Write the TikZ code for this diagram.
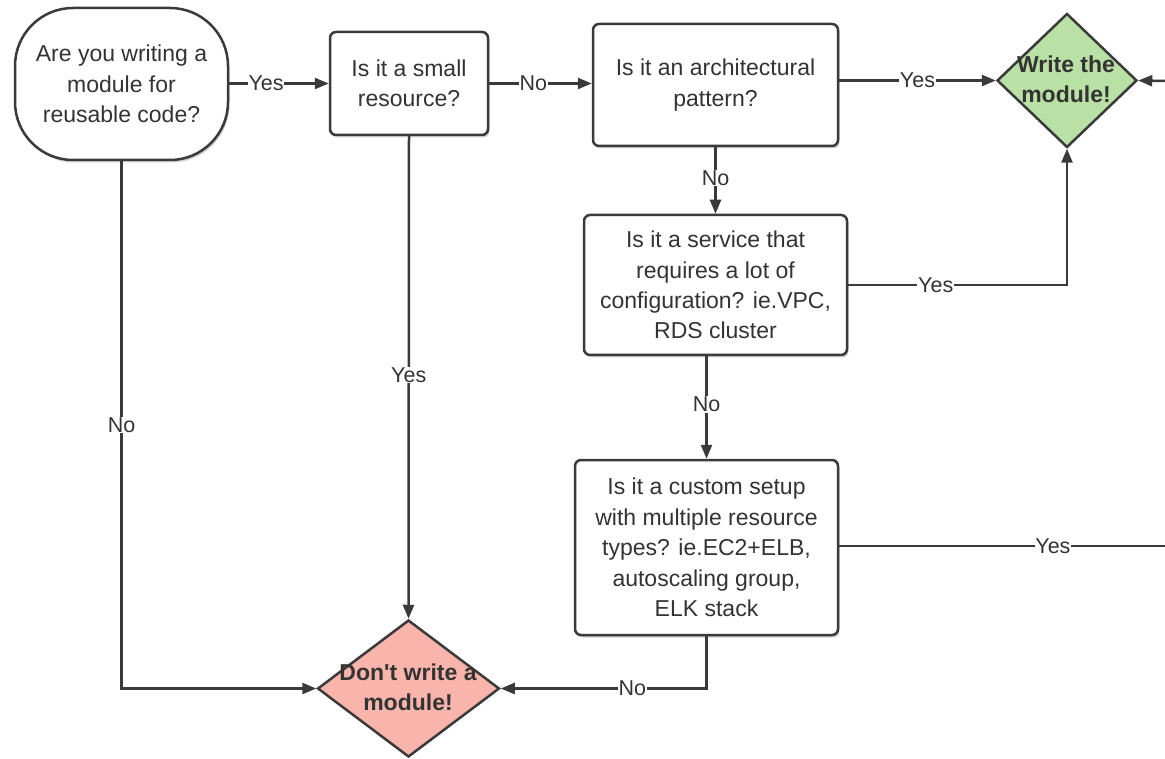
\documentclass[tikz,border=0pt]{standalone}
\usepackage{fontspec}
\setmainfont{Liberation Sans}
\usetikzlibrary{shapes.geometric,arrows.meta,shadows}
\definecolor{linec}{HTML}{3A3A3A}
\definecolor{textc}{HTML}{333333}
\definecolor{greenf}{HTML}{B9E0A5}
\definecolor{redf}{HTML}{F9B4AC}
\newcommand{\fsz}{\fontsize{23}{30.4}\selectfont}
\newcommand{\lsz}{\fontsize{21.5}{26}\selectfont}
\tikzset{
  conn/.style={draw=linec, line width=2.5pt, -{Triangle[length=14pt,width=11pt]}},
  plainconn/.style={draw=linec, line width=2.5pt},
  qbox/.style={draw=linec, line width=2.5pt, rounded corners=6pt, fill=white, align=center,
    font=\fsz, text=textc, inner sep=0pt,
    drop shadow={shadow xshift=1.5pt, shadow yshift=-2.5pt, opacity=0.18, fill=black}},
  startbox/.style={qbox, rounded corners=58pt},
  dia/.style={diamond, draw=linec, line width=2.5pt, inner sep=0pt},
  diatext/.style={align=center, font=\fsz\bfseries, text=textc, inner sep=0pt},
  lbl/.style={fill=white, font=\lsz, text=textc, inner sep=0.8pt}
}
\begin{document}
\begin{tikzpicture}[x=1pt,y=-1pt]
\useasboundingbox (0,0) rectangle (1165,759);
% nodes
\node[startbox, minimum width=213pt, minimum height=152pt] (start) at (121.5,84) {Are you writing a\\module for\\reusable code?};
\node[qbox, minimum width=158pt, minimum height=103pt] (small) at (409,83.5) {Is it a small\\resource?};
\node[qbox, minimum width=245pt, minimum height=122pt] (arch) at (715.5,85) {Is it an architectural\\pattern?};
\node[qbox, minimum width=263pt, minimum height=140pt] (service) at (715.5,285) {Is it a service that\\requires a lot of\\configuration? ie.VPC,\\RDS cluster};
\node[qbox, minimum width=263pt, minimum height=175pt] (custom) at (706.5,547.5) {Is it a custom setup\\with multiple resource\\types? ie.EC2+ELB,\\autoscaling group,\\ELK stack};
\node[dia, fill=greenf, minimum width=140pt, minimum height=134pt] (green) at (1067,80.5) {};
\node[diatext] (greentext) at (1066,79) {Write the\\module!};
\node[dia, fill=redf, minimum width=182pt, minimum height=137pt] (red) at (408.5,688.5) {};
\node[diatext] (redtext) at (408,687) {Don\textquotesingle t write a\\module!};
% off-canvas coordinates
\coordinate (edgeA) at (1168,546);
\coordinate (edgeB) at (1168,81);
% connectors
\draw[conn] (start.east |- small.west) -- node[lbl, pos=0.37] (l1) {Yes} (small.west);
\draw[conn] (small.east) -- node[lbl, pos=0.43] (l2) {No} (arch.west |- small.east);
\draw[conn] (arch.east |- green.west) -- node[lbl, pos=0.5] (l3) {Yes} (green.west);
\draw[conn] (arch.south) -- node[lbl, pos=0.46] (l4) {No} (service.north);
\draw[conn] (service.east) -| node[lbl, pos=0.2] (l5) {Yes} (green.south);
\draw[conn] (custom.north |- service.south) -- node[lbl, pos=0.47] (l6) {No} (custom.north);
\draw[plainconn] (custom.east |- edgeA) -- node[lbl, pos=0.65] (l7) {Yes} (edgeA);
\draw[conn] (edgeB) -- (green.east);
\draw[conn] (custom.south) |- node[lbl, pos=0.68] (l8) {No} (red.east);
\draw[conn] (small.south) -- node[lbl, pos=0.495] (l9) {Yes} (red.north);
\draw[conn] (start.south) |- node[lbl, pos=0.25] (l10) {No} (red.west);
\end{tikzpicture}
\end{document}
